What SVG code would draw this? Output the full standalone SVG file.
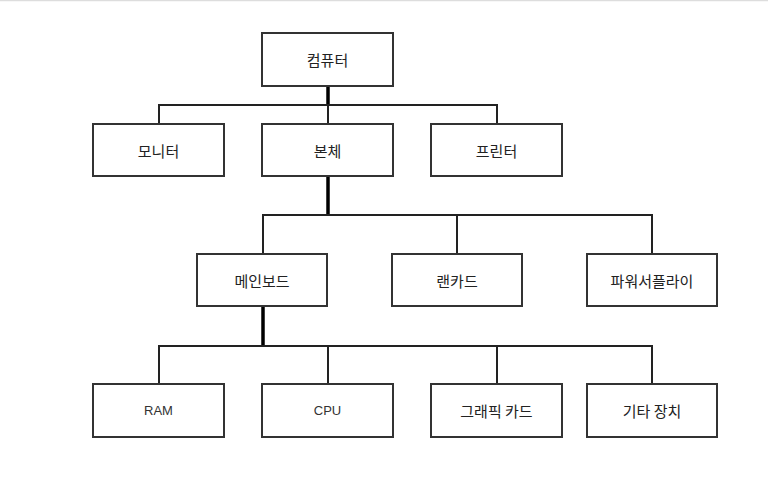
<svg xmlns="http://www.w3.org/2000/svg" width="768" height="489" viewBox="0 0 768 489">
<style>
.box{fill:#fff;stroke:#333;stroke-width:2}
.lbl{font-family:"Noto Sans CJK KR","Noto Sans",sans-serif;font-size:15px;fill:#222;text-anchor:middle;dominant-baseline:central}
.en{font-family:"Liberation Sans",Arial,sans-serif;font-size:13px;fill:#333}
.c{fill:none;stroke:#222;stroke-width:2}
.t{fill:none;stroke:#000;stroke-width:3.5}
</style>
<rect x="0" y="0" width="768" height="489" fill="#fff"/>
<line x1="0" y1="0.5" x2="768" y2="0.5" stroke="#ddd" stroke-width="1.5"/>
<g id="connectors">
<line class="t" x1="328" y1="86" x2="328" y2="105"/>
<polyline class="c" points="159,124 159,105 497,105 497,124"/>
<line class="c" x1="328" y1="105" x2="328" y2="124"/>
<line class="t" x1="328" y1="176" x2="328" y2="215"/>
<polyline class="c" points="263,254 263,215 652,215 652,254"/>
<line class="c" x1="457" y1="215" x2="457" y2="254"/>
<line class="t" x1="263" y1="306" x2="263" y2="346"/>
<polyline class="c" points="159,384 159,346 652,346 652,384"/>
<line class="c" x1="328" y1="346" x2="328" y2="384"/>
<line class="c" x1="497" y1="346" x2="497" y2="384"/>
</g>
<g id="n-computer"><rect class="box" x="262" y="33" width="131" height="53"/><text class="lbl" x="327.5" y="59.5">컴퓨터</text></g>
<g id="n-monitor"><rect class="box" x="93" y="124" width="131" height="52"/><text class="lbl" x="158.5" y="150">모니터</text></g>
<g id="n-body"><rect class="box" x="262" y="124" width="131" height="52"/><text class="lbl" x="327.5" y="150">본체</text></g>
<g id="n-printer"><rect class="box" x="431" y="124" width="131" height="52"/><text class="lbl" x="496.5" y="150">프린터</text></g>
<g id="n-mainboard"><rect class="box" x="197" y="254" width="130" height="52"/><text class="lbl" x="262" y="280">메인보드</text></g>
<g id="n-lancard"><rect class="box" x="392" y="254" width="130" height="52"/><text class="lbl" x="457" y="280">랜카드</text></g>
<g id="n-power"><rect class="box" x="587" y="254" width="130" height="52"/><text class="lbl" x="652" y="280">파워서플라이</text></g>
<g id="n-ram"><rect class="box" x="93" y="384" width="131" height="53"/><text class="lbl en" x="158.5" y="410.5">RAM</text></g>
<g id="n-cpu"><rect class="box" x="262" y="384" width="131" height="53"/><text class="lbl en" x="327.5" y="410.5">CPU</text></g>
<g id="n-graphic"><rect class="box" x="431" y="384" width="131" height="53"/><text class="lbl" x="496.5" y="410.5">그래픽 카드</text></g>
<g id="n-etc"><rect class="box" x="587" y="384" width="130" height="53"/><text class="lbl" x="652" y="410.5">기타 장치</text></g>
</svg>
